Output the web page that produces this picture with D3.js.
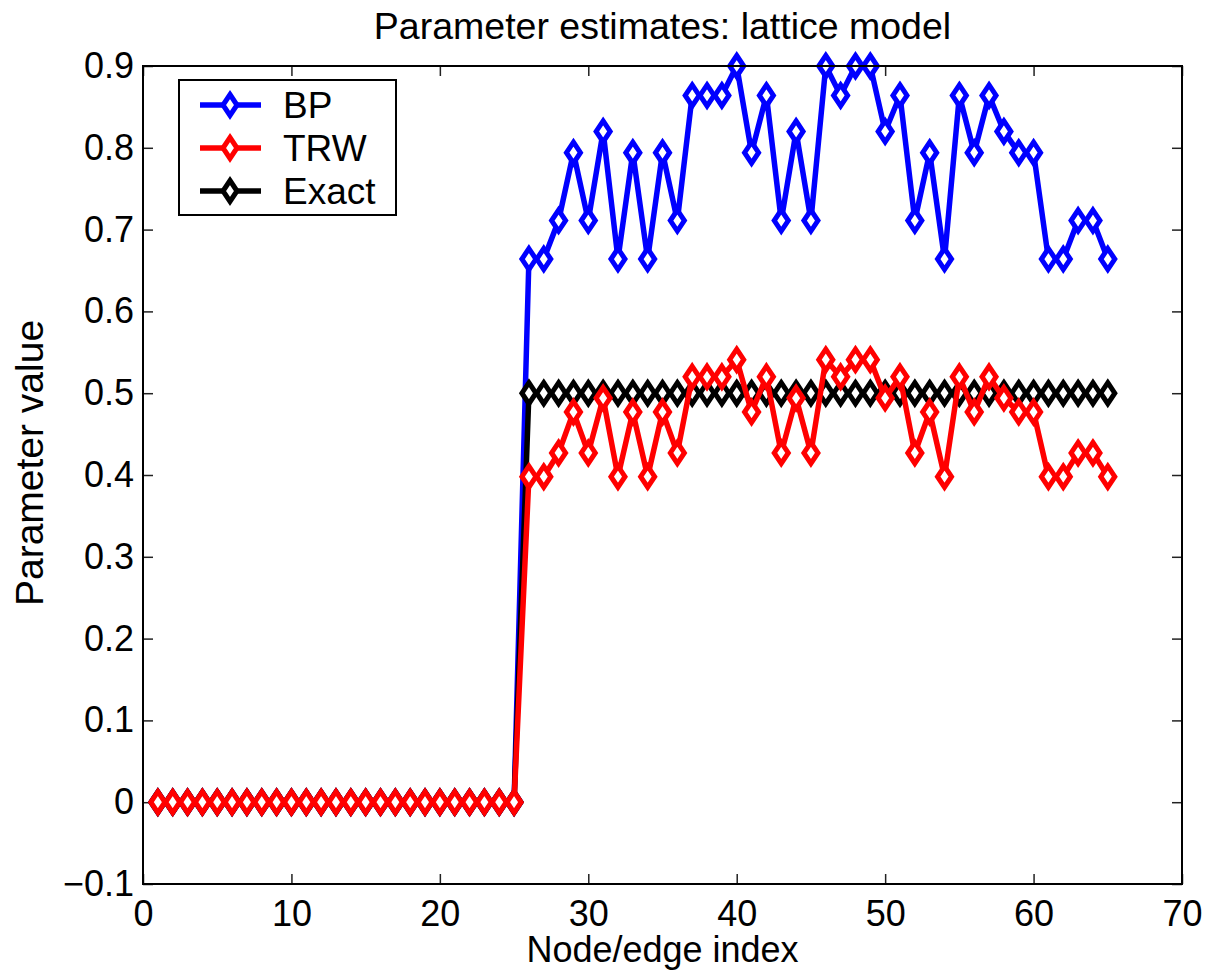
<!DOCTYPE html>
<html>
<head>
<meta charset="utf-8">
<script src="https://cdn.jsdelivr.net/npm/d3@7"></script>
<style>
  body { margin: 0; background: #fff; }
  svg { display: block; font-family: "Liberation Sans", Arial, sans-serif; }
</style>
</head>
<body>
<svg id="chart"></svg>
<script>
// Data
const index = [
  1, 2, 3, 4, 5, 6, 7, 8, 9, 10, 11, 12, 13, 14, 15, 16, 17, 18, 19, 20,
  21, 22, 23, 24, 25, 26, 27, 28, 29, 30, 31, 32, 33, 34, 35, 36, 37, 38, 39, 40,
  41, 42, 43, 44, 45, 46, 47, 48, 49, 50, 51, 52, 53, 54, 55, 56, 57, 58, 59, 60,
  61, 62, 63, 64, 65
];
const bp = [
  0, 0, 0, 0, 0, 0, 0, 0, 0, 0, 0, 0, 0, 0, 0, 0, 0, 0, 0, 0, 0, 0, 0, 0, 0,
  0.664, 0.664, 0.711, 0.794, 0.711, 0.820, 0.664, 0.794, 0.664, 0.794,
  0.711, 0.864, 0.864, 0.864, 0.900, 0.794, 0.864, 0.711, 0.820, 0.711,
  0.900, 0.864, 0.900, 0.900, 0.820, 0.864, 0.711, 0.794, 0.664, 0.864,
  0.794, 0.864, 0.820, 0.794, 0.794, 0.664, 0.664, 0.711, 0.711, 0.664
];
const trw = [
  0, 0, 0, 0, 0, 0, 0, 0, 0, 0, 0, 0, 0, 0, 0, 0, 0, 0, 0, 0, 0, 0, 0, 0, 0,
  0.398, 0.398, 0.427, 0.477, 0.427, 0.494, 0.398, 0.477, 0.398, 0.477,
  0.427, 0.520, 0.520, 0.520, 0.541, 0.477, 0.520, 0.427, 0.494, 0.427,
  0.541, 0.520, 0.541, 0.541, 0.494, 0.520, 0.427, 0.477, 0.398, 0.520,
  0.477, 0.520, 0.494, 0.477, 0.477, 0.398, 0.398, 0.427, 0.427, 0.398
];
const exact = [
  0, 0, 0, 0, 0, 0, 0, 0, 0, 0, 0, 0, 0, 0, 0, 0, 0, 0, 0, 0, 0, 0, 0, 0, 0,
  0.5, 0.5, 0.5, 0.5, 0.5, 0.5, 0.5, 0.5, 0.5, 0.5,
  0.5, 0.5, 0.5, 0.5, 0.5, 0.5, 0.5, 0.5, 0.5, 0.5,
  0.5, 0.5, 0.5, 0.5, 0.5, 0.5, 0.5, 0.5, 0.5, 0.5,
  0.5, 0.5, 0.5, 0.5, 0.5, 0.5, 0.5, 0.5, 0.5, 0.5
];
const xTicks = [0, 10, 20, 30, 40, 50, 60, 70];
const yTicks = [-0.1, 0, 0.1, 0.2, 0.3, 0.4, 0.5, 0.6, 0.7, 0.8, 0.9];

// Series: drawn in this order, listed in the legend in legendOrder
const series = [
  { name: 'BP', values: bp, color: '#0000ff' },
  { name: 'Exact', values: exact, color: '#000000' },
  { name: 'TRW', values: trw, color: '#ff0000' }
];
const legendOrder = ['BP', 'TRW', 'Exact'];

// Dimensions
const width = 1207, height = 974;
const margin = { top: 66, right: 25, bottom: 90, left: 143 };
const innerWidth = width - margin.left - margin.right;
const innerHeight = height - margin.top - margin.bottom;

const svg = d3.select('#chart')
  .attr('width', width)
  .attr('height', height);

const g = svg.append('g')
  .attr('transform', `translate(${margin.left},${margin.top})`);

// Scales
const x = d3.scaleLinear().domain([0, 70]).range([0, innerWidth]);
const y = d3.scaleLinear().domain([-0.1, 0.9]).range([innerHeight, 0]);

const fmt = v => (v < 0 ? '\u2212' : '') + d3.format('.1~f')(Math.abs(v));

// Axes (ticks inward, on all four sides)
const tickLen = 10;
g.append('g')
  .attr('transform', `translate(0,${innerHeight})`)
  .attr('font-family', null)
  .call(d3.axisBottom(x).tickValues(xTicks).tickSize(-tickLen).tickPadding(16).tickFormat(d3.format('d')))
  .call(a => a.select('.domain').remove());
g.append('g')
  .call(d3.axisTop(x).tickValues(xTicks).tickSize(-tickLen))
  .call(a => a.select('.domain').remove())
  .call(a => a.selectAll('text').remove());
g.append('g')
  .attr('font-family', null)
  .call(d3.axisLeft(y).tickValues(yTicks).tickSize(-tickLen).tickPadding(9).tickFormat(fmt))
  .call(a => a.select('.domain').remove());
g.append('g')
  .attr('transform', `translate(${innerWidth},0)`)
  .call(d3.axisRight(y).tickValues(yTicks).tickSize(-tickLen))
  .call(a => a.select('.domain').remove())
  .call(a => a.selectAll('text').remove());

g.selectAll('.tick line').attr('stroke', '#222').attr('stroke-width', 1.5);
g.selectAll('.tick text').attr('fill', '#000').attr('font-size', 36);

// Clip for data
svg.append('defs').append('clipPath').attr('id', 'clip')
  .append('rect')
  .attr('x', -14).attr('y', -16)
  .attr('width', innerWidth + 28).attr('height', innerHeight + 32);

const line = d3.line()
  .x((d, i) => x(index[i]))
  .y(d => y(d));

const diamond = 'M0,-10.5L7,0L0,10.5L-7,0Z';

const plot = g.append('g').attr('clip-path', 'url(#clip)');
series.forEach(s => {
  plot.append('path')
    .datum(s.values)
    .attr('fill', 'none')
    .attr('stroke', s.color)
    .attr('stroke-width', 5.5)
    .attr('stroke-linejoin', 'miter')
    .attr('d', line);

  plot.selectAll(null)
    .data(s.values)
    .enter()
    .append('path')
      .attr('d', diamond)
      .attr('transform', (d, i) => `translate(${x(index[i])},${y(d)})`)
      .attr('fill', '#fff')
      .attr('stroke', s.color)
      .attr('stroke-width', 5);
});

// Axes box
g.append('rect')
  .attr('width', innerWidth)
  .attr('height', innerHeight)
  .attr('fill', 'none')
  .attr('stroke', '#000')
  .attr('stroke-width', 2);

// Legend
const legend = g.append('g')
  .attr('transform', `translate(${179 - margin.left},${80 - margin.top})`);

legend.append('rect')
  .attr('width', 217)
  .attr('height', 135)
  .attr('fill', '#fff')
  .attr('stroke', '#000')
  .attr('stroke-width', 2);

legendOrder.forEach((name, i) => {
  const s = series.find(d => d.name === name);
  const item = legend.append('g')
    .attr('transform', `translate(0,${25 + i * 43})`);

  item.append('line')
    .attr('x1', 21).attr('x2', 82)
    .attr('stroke', s.color)
    .attr('stroke-width', 5.5);

  item.append('path')
    .attr('d', diamond)
    .attr('transform', 'translate(51,0)')
    .attr('fill', '#fff')
    .attr('stroke', s.color)
    .attr('stroke-width', 5);

  item.append('text')
    .attr('x', 104)
    .attr('dy', '0.36em')
    .attr('font-size', 37)
    .text(name);
});

// Title and axis labels
svg.append('text')
  .attr('x', margin.left + innerWidth / 2)
  .attr('y', 39)
  .attr('text-anchor', 'middle')
  .attr('font-size', 37.5)
  .text('Parameter estimates: lattice model');

svg.append('text')
  .attr('x', margin.left + innerWidth / 2)
  .attr('y', 962)
  .attr('text-anchor', 'middle')
  .attr('font-size', 36)
  .text('Node/edge index');

svg.append('text')
  .attr('transform', 'rotate(-90)')
  .attr('x', -463)
  .attr('y', 43)
  .attr('text-anchor', 'middle')
  .attr('font-size', 39)
  .text('Parameter value');
</script>
</body>
</html>
